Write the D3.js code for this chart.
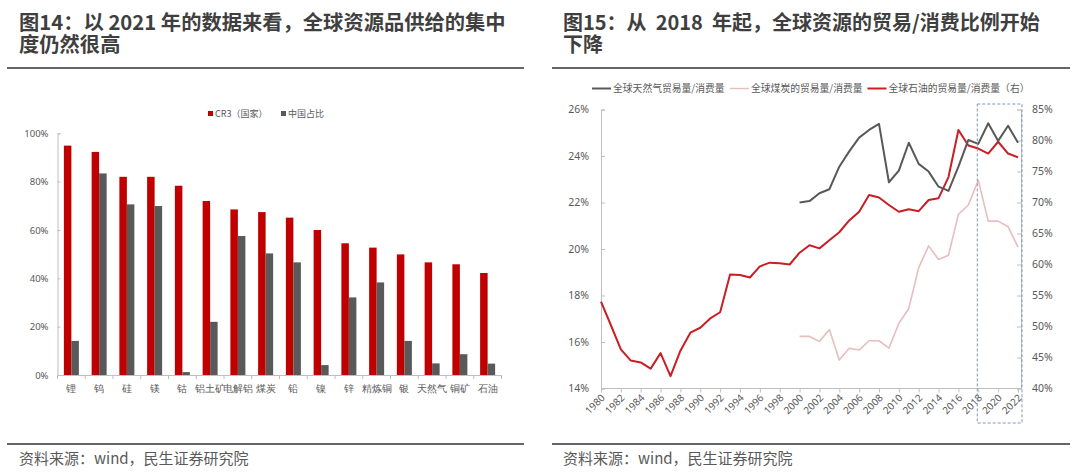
<!DOCTYPE html>
<html>
<head>
<meta charset="utf-8">
<script src="https://cdn.jsdelivr.net/npm/d3@7"></script>
<style>
  html, body { margin: 0; padding: 0; background: #fff; }
  svg { display: block; font-family: "Noto Sans CJK SC", "Noto Sans", sans-serif; }
</style>
</head>
<body>
<svg id="chart" width="1080" height="473"></svg>
<script>
// ---------- Data: left chart (Figure 14) ----------
const categories = ['锂','钨','硅','镁','钴','铝土矿','电解铝','煤炭','铅','镍','锌','精炼铜','银','天然气','铜矿','石油'];
const cr3Values   = [94.9, 92.3, 82.0, 82.0, 78.3, 72.0, 68.5, 67.4, 65.1, 60.0, 54.5, 52.7, 49.9, 46.6, 45.8, 42.2];
const chinaValues = [14.1, 83.4, 70.6, 69.9, 1.2, 22.0, 57.5, 50.3, 46.6, 4.1, 32.1, 38.3, 14.1, 4.8, 8.6, 4.7];
const barSeriesNames = ['CR3（国家）', '中国占比'];
const leftTicks = [0, 20, 40, 60, 80, 100];

// ---------- Data: right chart (Figure 15) ----------
const years = [1980,1981,1982,1983,1984,1985,1986,1987,1988,1989,1990,1991,1992,1993,1994,1995,1996,1997,1998,1999,
               2000,2001,2002,2003,2004,2005,2006,2007,2008,2009,2010,2011,2012,2013,2014,2015,2016,2017,2018,2019,2020,2021,2022];
const oilRatio = [54.0,50.2,46.3,44.5,44.2,43.2,45.7,42.0,46.1,49.0,49.8,51.3,52.3,58.4,58.3,57.9,59.7,60.3,60.2,60.0,
                  61.9,63.1,62.6,63.9,65.2,67.1,68.5,71.2,70.8,69.6,68.5,68.9,68.6,70.4,70.7,74.1,81.7,79.2,78.7,77.9,79.8,77.9,77.3];
const gasYears = [2000,2001,2002,2003,2004,2005,2006,2007,2008,2009,2010,2011,2012,2013,2014,2015,2016,2017,2018,2019,2020,2021,2022];
const gasRatio = [22.0,22.06,22.4,22.57,23.54,24.2,24.79,25.12,25.38,22.87,23.37,24.57,23.66,23.33,22.68,22.5,23.54,24.69,24.52,25.41,24.65,25.3,24.57];
const coalRatio = [48.4,48.4,47.6,49.5,44.6,46.5,46.2,47.7,47.7,46.5,50.5,52.9,59.5,63.0,60.8,61.5,68.1,69.6,73.6,67.0,67.0,66.1,62.8];
const lineSeriesNames = ['全球天然气贸易量/消费量', '全球煤炭的贸易量/消费量', '全球石油的贸易量/消费量（右）'];
const leftAxisTicks = [14,16,18,20,22,24,26];
const rightAxisTicks = [40,45,50,55,60,65,70,75,80,85];
const yearTicks = d3.range(1980, 2023, 2);
const highlightYears = [2018, 2022];

const svg = d3.select('#chart');
const TXT = '#595959';
const AXIS = '#bfbfbf';
const RED = '#c00000';
const DARK = '#595959';

// ---------- Titles, rules and sources ----------
function header(x0, x1, lines, tx, fs) {
  lines.forEach((l, i) => svg.append('text').attr('x', tx).attr('y', 30 + i * 22)
    .attr('fill', '#3f3f3f').attr('font-size', fs).attr('font-weight', 700)
    .style('white-space', 'pre').text(l));
  svg.append('line').attr('x1', x0).attr('x2', x1).attr('y1', 68).attr('y2', 68)
    .attr('stroke', '#666').attr('stroke-width', 2);
  svg.append('line').attr('x1', x0).attr('x2', x1).attr('y1', 444).attr('y2', 444)
    .attr('stroke', '#666').attr('stroke-width', 2);
  svg.append('text').attr('x', tx).attr('y', 464).attr('fill', TXT).attr('font-size', 15)
    .text('资料来源：wind，民生证券研究院');
}
header(7, 524, ['图14：以 2021 年的数据来看，全球资源品供给的集中', '度仍然很高'], 19, 20.3);
header(552, 1070, ['图15：从  2018  年起，全球资源的贸易/消费比例开始', '下降'], 563, 20);

// ---------- Left chart: grouped bars ----------
{
  const x = d3.scaleBand().domain(categories).range([57.5, 501.5]).padding(0);
  const xs = d3.scaleBand().domain(barSeriesNames).range([0, x.bandwidth()]).paddingInner(0).paddingOuter(0.85);
  const y = d3.scaleLinear().domain([0, 100]).range([375, 133.3]);
  const colors = d3.scaleOrdinal().domain(barSeriesNames).range([RED, DARK]);

  const rows = categories.map((c, i) => ({ c, vals: [cr3Values[i], chinaValues[i]] }));
  const g = svg.append('g');
  g.selectAll('g.cat').data(rows).join('g').attr('class', 'cat')
    .attr('transform', d => `translate(${x(d.c)},0)`)
    .selectAll('rect').data(d => d.vals.map((v, k) => ({ s: barSeriesNames[k], v })))
    .join('rect')
    .attr('x', d => xs(d.s)).attr('width', xs.bandwidth())
    .attr('y', d => y(d.v)).attr('height', d => y(0) - y(d.v))
    .attr('fill', d => colors(d.s));

  // y axis
  const ya = svg.append('g').attr('transform', 'translate(57.5,0)')
    .call(d3.axisLeft(y).tickValues(leftTicks).tickSize(-3).tickPadding(9).tickFormat(d => d + '%'));
  ya.select('.domain').attr('stroke', AXIS);
  ya.selectAll('.tick line').attr('stroke', AXIS);
  ya.selectAll('text').attr('fill', TXT).attr('font-size', 9.5).attr('font-family', '"Noto Sans", sans-serif');

  // x axis
  const xa = svg.append('g').attr('transform', 'translate(0,375)')
    .call(d3.axisBottom(x).tickSize(0).tickPadding(10));
  xa.select('.domain').attr('stroke', AXIS);
  xa.selectAll('text').attr('fill', TXT).attr('font-size', 10);
  xa.selectAll('line.sep').data(categories.concat(['end'])).join('line').attr('class', 'sep')
    .attr('x1', (d, i) => 57.5 + i * x.step()).attr('x2', (d, i) => 57.5 + i * x.step())
    .attr('y1', 0).attr('y2', 4).attr('stroke', AXIS);

  // legend
  const lg = svg.append('g').attr('font-size', 9).attr('fill', TXT);
  const lx = [208, 281];
  barSeriesNames.forEach((n, i) => {
    lg.append('rect').attr('x', lx[i]).attr('y', 111).attr('width', 5).attr('height', 5).attr('fill', colors(n));
    lg.append('text').attr('x', lx[i] + 7).attr('y', 117).attr('fill', TXT).text(n);
  });
}

// ---------- Right chart: lines ----------
{
  const x = d3.scaleLinear().domain([1980, 2022]).range([601, 1018]);
  const yL = d3.scaleLinear().domain([14, 26]).range([388.5, 109.5]);
  const yR = d3.scaleLinear().domain([40, 85]).range([388.5, 109.5]);
  const xEnd = 1021;

  // axes
  const la = svg.append('g').attr('transform', 'translate(601,0)')
    .call(d3.axisLeft(yL).tickValues(leftAxisTicks).tickSize(-4).tickPadding(12).tickFormat(d => d + '%'));
  la.select('.domain').attr('stroke', AXIS);
  la.selectAll('.tick line').attr('stroke', AXIS);
  la.selectAll('text').attr('fill', TXT).attr('font-size', 10.5).attr('font-family', '"Noto Sans", sans-serif');

  const ra = svg.append('g').attr('transform', `translate(${xEnd},0)`)
    .call(d3.axisRight(yR).tickValues(rightAxisTicks).tickSize(-4).tickPadding(11).tickFormat(d => d + '%'));
  ra.select('.domain').attr('stroke', AXIS);
  ra.selectAll('.tick line').attr('stroke', AXIS);
  ra.selectAll('text').attr('fill', TXT).attr('font-size', 10.5).attr('font-family', '"Noto Sans", sans-serif');

  const ba = svg.append('g').attr('transform', 'translate(0,388.5)')
    .call(d3.axisBottom(x).tickValues(yearTicks).tickSize(4).tickFormat(d => String(d)));
  ba.select('.domain').attr('d', `M601,0H${xEnd}`).attr('stroke', AXIS);
  ba.selectAll('.tick line').attr('stroke', AXIS);
  ba.selectAll('text').attr('fill', TXT).attr('font-size', 10).attr('font-family', '"Noto Sans", sans-serif')
    .attr('text-anchor', 'end').attr('dy', 0).attr('y', 0)
    .attr('transform', 'translate(4,10) rotate(-45)');

  // lines
  const lineL = d3.line().x(d => x(d[0])).y(d => yL(d[1]));
  const lineR = d3.line().x(d => x(d[0])).y(d => yR(d[1]));
  const coalColor = '#e8bdbd';
  svg.append('path').datum(gasYears.map((yr, i) => [yr, coalRatio[i]]))
    .attr('d', lineR).attr('fill', 'none').attr('stroke', coalColor).attr('stroke-width', 1.6).attr('stroke-linejoin', 'round');
  svg.append('path').datum(years.map((yr, i) => [yr, oilRatio[i]]))
    .attr('d', lineR).attr('fill', 'none').attr('stroke', '#c81e24').attr('stroke-width', 2).attr('stroke-linejoin', 'round');
  svg.append('path').datum(gasYears.map((yr, i) => [yr, gasRatio[i]]))
    .attr('d', lineL).attr('fill', 'none').attr('stroke', DARK).attr('stroke-width', 2).attr('stroke-linejoin', 'round');

  // highlight box
  svg.append('rect')
    .attr('x', x(highlightYears[0]) - 1).attr('y', 104)
    .attr('width', xEnd + 1 - (x(highlightYears[0]) - 1)).attr('height', 423 - 104)
    .attr('fill', 'none').attr('stroke', '#8496b0').attr('stroke-width', 1).attr('stroke-dasharray', '3,2');

  // legend
  const lcol = [DARK, coalColor, '#c81e24'];
  const lxs = [592, 730, 867.5];
  lineSeriesNames.forEach((n, i) => {
    svg.append('line').attr('x1', lxs[i]).attr('x2', lxs[i] + 19).attr('y1', 88.5).attr('y2', 88.5)
      .attr('stroke', lcol[i]).attr('stroke-width', i === 1 ? 1.4 : 2);
    svg.append('text').attr('x', lxs[i] + 21).attr('y', 92).attr('font-size', 9.8).attr('fill', TXT).text(n);
  });
}
</script>
</body>
</html>
